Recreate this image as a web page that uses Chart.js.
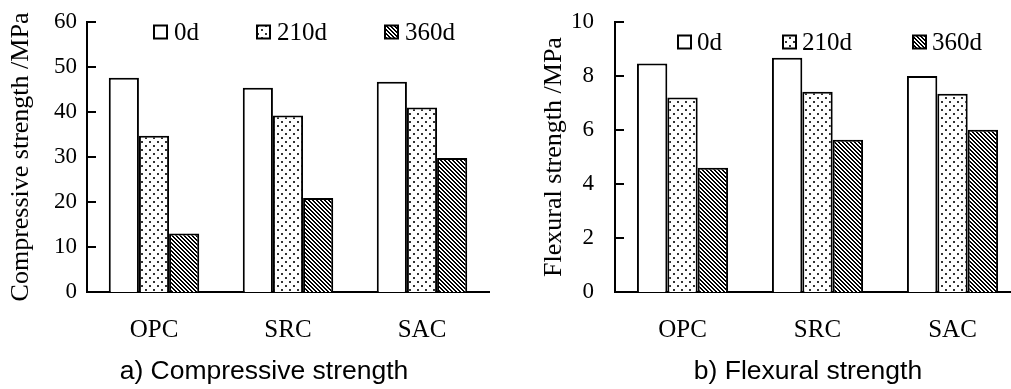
<!DOCTYPE html>
<html>
<head>
<meta charset="utf-8">
<script src="https://cdn.jsdelivr.net/npm/chart.js@4/dist/chart.umd.min.js"></script>
<style>
    html, body { margin: 0; padding: 0; background: #fff; overflow: hidden; }
    #wrap { position: relative; width: 1011px; height: 389px; overflow: hidden; }
    .box { position: absolute; top: 0; width: 500px; height: 389px; }
    #boxA { left: 0; }
    #boxB { left: 528px; }
    .caption {
        position: absolute; top: 355px; line-height: 30px;
        font-family: "Liberation Sans", Arial, sans-serif; font-size: 26.5px;
        color: #000; white-space: nowrap; transform: translateX(-50%);
    }
</style>
</head>
<body>
<div id="wrap">
    <div class="box" id="boxA"><canvas id="chartA"></canvas></div>
    <div class="box" id="boxB"><canvas id="chartB"></canvas></div>
    <div class="caption" style="left:264px">a) Compressive strength</div>
    <div class="caption" style="left:808px">b) Flexural strength</div>
</div>
<script>
const categories = ["OPC", "SRC", "SAC"];
const seriesLabels = ["0d", "210d", "360d"];

const compressive0 = [47.6, 45.4, 46.7];
const compressive210 = [34.7, 39.2, 41.0];
const compressive360 = [13.0, 20.9, 29.8];

const flexural0 = [8.46, 8.68, 8.0];
const flexural210 = [7.2, 7.42, 7.34];
const flexural360 = [4.6, 5.64, 6.01];

const compressiveAxis = { max: 60, step: 10 };
const flexuralAxis = { max: 10, step: 2 };

const serif = "'Liberation Serif', 'Times New Roman', serif";

// small tiles for the hatch fills
const makeTile = (size, paint) => {
    const c = document.createElement("canvas");
    c.width = size;
    c.height = size;
    const g = c.getContext("2d");
    g.fillStyle = "#fff";
    g.fillRect(0, 0, size, size);
    paint(g);
    return c.getContext("2d").createPattern(c, "repeat");
};

const dots = makeTile(8, g => {
    g.fillStyle = "#333";
    g.fillRect(1, 1, 2, 2);
    g.fillRect(5, 5, 2, 2);
});

const stripes = makeTile(4, g => {
    g.fillStyle = "#000";
    for (let y = 0; y < 4; y++) {
        for (let x = 0; x < 4; x++) {
            const d = ((x - y) % 4 + 4) % 4;
            if (d === 0 || d === 1) g.fillRect(x, y, 1, 1);
        }
    }
});

const fills = ["#fff", dots, stripes];

// inward tick marks on the value axis
const innerTicks = {
    id: "innerTicks",
    afterDraw(chart) {
        const { ctx, chartArea } = chart;
        const y = chart.scales.y;
        ctx.save();
        ctx.strokeStyle = "#000";
        ctx.lineWidth = 2;
        y.ticks.forEach(t => {
            const py = Math.round(y.getPixelForValue(t.value));
            ctx.beginPath();
            ctx.moveTo(chartArea.left, py);
            ctx.lineTo(chartArea.left + 9, py);
            ctx.stroke();
        });
        ctx.restore();
    }
};

// legend drawn inside the plot, items spread out like the original
const patternLegend = {
    id: "patternLegend",
    afterDraw(chart, args, opts) {
        const { ctx, chartArea } = chart;
        ctx.save();
        ctx.font = "25px " + serif;
        ctx.textBaseline = "middle";
        let x = chartArea.left + opts.offsetX;
        const y = chartArea.top + opts.offsetY;
        chart.data.datasets.forEach(ds => {
            ctx.fillStyle = ds.backgroundColor;
            ctx.fillRect(x, y - 6.5, 13, 13);
            ctx.lineWidth = 2;
            ctx.strokeStyle = "#000";
            ctx.strokeRect(x, y - 6.5, 13, 13);
            ctx.fillStyle = "#000";
            ctx.fillText(ds.label, x + 13 + opts.boxGap, y + 1);
            x += 13 + opts.boxGap + ctx.measureText(ds.label).width + opts.itemGap;
        });
        ctx.restore();
    }
};

const makeChart = (id, seriesData, axis, title, cfg) => {
    const ctx = document.getElementById(id).getContext("2d");
    return new Chart(ctx, {
        type: "bar",
        data: {
            labels: categories,
            datasets: seriesData.map((d, i) => ({
                label: seriesLabels[i],
                data: d,
                backgroundColor: fills[i],
                borderColor: "#000",
                borderWidth: 2,
                categoryPercentage: 0.675,
                barPercentage: 1.0
            }))
        },
        options: {
            responsive: true,
            maintainAspectRatio: false,
            animation: false,
            layout: { padding: { top: 22, right: cfg.padRight, left: 0, bottom: 0 } },
            plugins: {
                legend: { display: false },
                tooltip: { enabled: false },
                patternLegend: cfg.legend
            },
            scales: {
                x: {
                    grid: { display: false, drawTicks: false },
                    border: { display: true, color: "#000", width: 2 },
                    ticks: { color: "#000", font: { family: serif, size: 25 }, padding: 23 },
                    afterFit: s => { s.height = 97; }
                },
                y: {
                    min: 0,
                    max: axis.max,
                    grid: { display: false, drawTicks: false },
                    border: { display: true, color: "#000", width: 2 },
                    ticks: {
                        stepSize: axis.step,
                        color: "#000",
                        font: { family: serif, size: 23 },
                        padding: cfg.tickPad
                    },
                    title: {
                        display: true,
                        text: title,
                        color: "#000",
                        font: { family: serif, size: 26 },
                        padding: { top: cfg.titlePad, bottom: 0 }
                    },
                    afterFit: s => { s.width = 87; s.paddingTop = 0; s.paddingBottom = 0; }
                }
            }
        },
        plugins: [innerTicks, patternLegend]
    });
};

makeChart("chartA", [compressive0, compressive210, compressive360], compressiveAxis,
    "Compressive strength /MPa",
    { padRight: 11, tickPad: 10, titlePad: 6, legend: { offsetX: 67, offsetY: 10, boxGap: 7, itemGap: 58 } });

makeChart("chartB", [flexural0, flexural210, flexural360], flexuralAxis,
    "Flexural strength /MPa",
    { padRight: 8, tickPad: 21, titlePad: 11, legend: { offsetX: 63, offsetY: 20, boxGap: 6, itemGap: 61 } });
</script>
</body>
</html>
